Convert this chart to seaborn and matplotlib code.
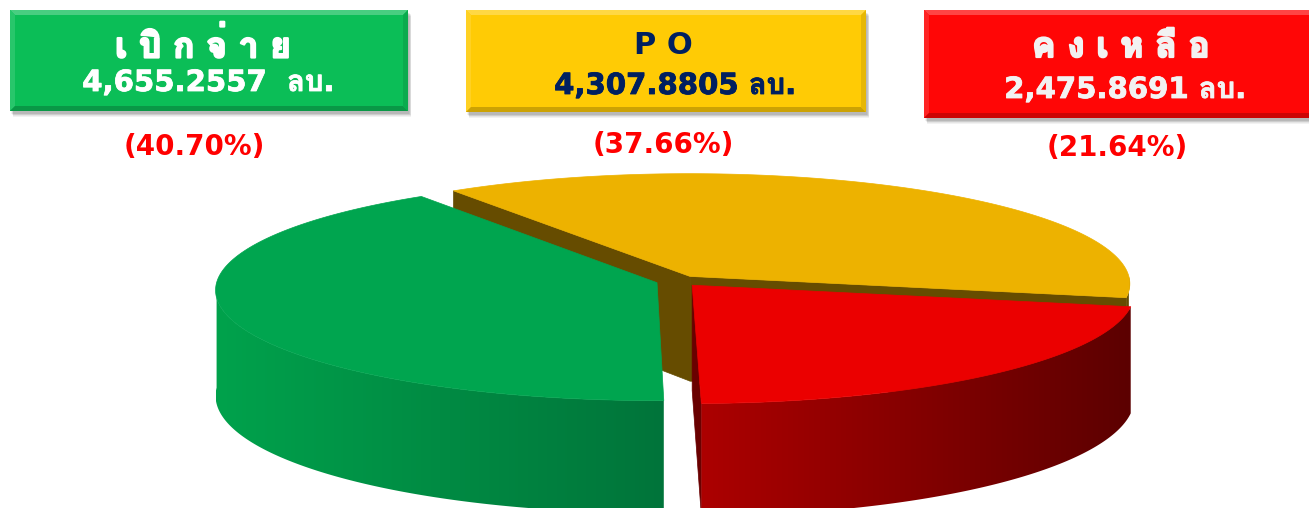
import numpy as np
import matplotlib
matplotlib.use("Agg")
import matplotlib.pyplot as plt
import matplotlib.patheffects as pe
import seaborn as sns
from matplotlib import font_manager
from matplotlib.ft2font import FT2Font
from matplotlib.patches import Polygon, Rectangle
from matplotlib.colors import to_rgb

# data
box_titles = ["เ บิ ก จ่ า ย", "P O", "ค ง เ ห ลื อ"]
amounts = [4655.2557, 4307.8805, 2475.8691]
amount_labels = ["4,655.2557  ลบ.", "4,307.8805 ลบ.", "2,475.8691 ลบ."]
percent_labels = ["(40.70%)", "(37.66%)", "(21.64%)"]

# colours
top_colors = ["#00A54F", "#EDB200", "#EB0000"]
wall_colors = [("#00A24C", "#00743A"), ("#664C00", "#664C00"), ("#AC0000", "#5C0000")]
face_colors = ["#00743A", "#664C00", "#6A0000"]
box_colors = ["#0BBE57", "#FFCB05", "#FF0606"]
text_colors = ["white", "#002060", "#F2F2F2"]

# layout (pixels)
W, H = 1309, 508
boxes = [(10, 10, 408, 111), (466, 10, 866, 112), (924, 10, 1340, 118)]
title_pos = [(203, 46), (663, 45), (1121, 47)]
title_size = [25, 22, 25]
amount_pos = [(208, 83), (675, 86), (1125, 90)]
pct_pos = [(194, 147), (663, 145), (1117, 148)]

cx, cy = 678, 281
rx, ry = 440, 110
depth = 105
persp = 0.065
explode = 0.05
start_angle = 271


def find_thai_font():
    for f in font_manager.fontManager.ttflist:
        try:
            if 0x0E01 in FT2Font(f.fname).get_charmap():
                return f.name
        except Exception:
            pass
    return None


sns.set_theme(style="white")
thai = find_thai_font()
families = ["DejaVu Sans"] + ([thai] if thai else [])
plt.rcParams["font.family"] = families


def proj(x, y, z):
    s = 1.0 / (1.0 + persp * y)
    return cx + rx * x * s, cy - (ry * y - depth * (1 - z)) * s


def mix(c1, c2, t):
    a, b = np.array(to_rgb(c1)), np.array(to_rgb(c2))
    return tuple(a + (b - a) * t)


fig = plt.figure(figsize=(W / 100, H / 100), dpi=100)
ax = fig.add_axes([0, 0, 1, 1])
z = 1

# 3D pie, slices clockwise from the bottom
fracs = np.array(amounts) / sum(amounts)
spans = 360 * fracs
starts = start_angle - np.concatenate([[0], np.cumsum(spans)[:-1]])
ends = starts - spans
mids = (starts + ends) / 2
order = np.argsort(-np.sin(np.radians(mids)))

for i in order:
    a0, a1 = np.radians(ends[i]), np.radians(starts[i])
    m = np.radians(mids[i])
    ox, oy = explode * np.cos(m), explode * np.sin(m)

    # cut faces
    for ang, vis in [(a1, np.cos(a1) < 0), (a0, np.cos(a0) > 0)]:
        if vis:
            ex, ey = ox + np.cos(ang), oy + np.sin(ang)
            pts = [proj(ox, oy, 1), proj(ex, ey, 1), proj(ex, ey, 0), proj(ox, oy, 0)]
            ax.add_patch(Polygon(pts, closed=True, fc=face_colors[i], ec=face_colors[i],
                                 lw=0.5, zorder=z))
            z += 1

    # outer wall (front half only), shaded left to right
    for k in (-1, 0, 1):
        lo = max(a0, np.pi + 2 * np.pi * k)
        hi = min(a1, 2 * np.pi + 2 * np.pi * k)
        if hi <= lo:
            continue
        t = np.linspace(lo, hi, 300)
        xt, yt = proj(ox + np.cos(t), oy + np.sin(t), 1)
        xb, yb = proj(ox + np.cos(t), oy + np.sin(t), 0)
        pts = np.column_stack([np.r_[xt, xb[::-1]], np.r_[yt, yb[::-1]]])
        wall = Polygon(pts, closed=True, fc="none", ec="none")
        ax.add_patch(wall)
        g = np.linspace(0, 1, 256)
        grad = np.array([mix(wall_colors[i][0], wall_colors[i][1], v) for v in g])[None, :, :]
        im = ax.imshow(grad, extent=(pts[:, 0].min(), pts[:, 0].max(), pts[:, 1].max(), pts[:, 1].min()),
                       aspect="auto", interpolation="bilinear", zorder=z)
        im.set_clip_path(wall)
        z += 1

    # top
    tt = np.linspace(a0, a1, 300)
    xs, ys = proj(ox + np.cos(tt), oy + np.sin(tt), 1)
    px, py = proj(ox, oy, 1)
    pts = np.column_stack([np.r_[px, xs], np.r_[py, ys]])
    ax.add_patch(Polygon(pts, closed=True, fc=top_colors[i], ec=top_colors[i], lw=0.5, zorder=z))
    z += 1


# bevelled boxes
def draw_box(x0, y0, x1, y1, color):
    for k in range(6, 0, -1):
        ax.add_patch(Rectangle((x0 + 1 + k * 0.4, y0 + 2 + k * 0.6), x1 - x0, y1 - y0,
                               fc="black", ec="none", alpha=0.05, zorder=50))
    ax.add_patch(Rectangle((x0, y0), x1 - x0, y1 - y0, fc=color, ec="none", zorder=51))
    b = 5
    light, lighter = mix(color, "white", 0.25), mix(color, "white", 0.12)
    dark, darker = mix(color, "black", 0.10), mix(color, "black", 0.20)
    ax.add_patch(Polygon([(x0, y0), (x1, y0), (x1 - b, y0 + b), (x0 + b, y0 + b)], fc=light, ec="none", zorder=52))
    ax.add_patch(Polygon([(x0, y0), (x0 + b, y0 + b), (x0 + b, y1 - b), (x0, y1)], fc=lighter, ec="none", zorder=52))
    ax.add_patch(Polygon([(x0, y1), (x0 + b, y1 - b), (x1 - b, y1 - b), (x1, y1)], fc=darker, ec="none", zorder=52))
    ax.add_patch(Polygon([(x1, y0), (x1, y1), (x1 - b, y1 - b), (x1 - b, y0 + b)], fc=dark, ec="none", zorder=52))


for i in range(3):
    draw_box(*boxes[i], box_colors[i])
    thick = [pe.withStroke(linewidth=1.6, foreground=text_colors[i])]
    ax.text(*title_pos[i], box_titles[i], ha="center", va="center", fontsize=title_size[i],
            fontweight="bold", color=text_colors[i], zorder=60,
            path_effects=thick if i != 1 else None)
    ax.text(*amount_pos[i], amount_labels[i], ha="center", va="center", fontsize=21,
            fontweight="bold", color=text_colors[i], zorder=60,
            path_effects=[pe.withStroke(linewidth=0.6, foreground=text_colors[i])])
    ax.text(*pct_pos[i], percent_labels[i], ha="center", va="center", fontsize=20,
            fontweight="bold", color="#FF0000", zorder=60)

ax.set_xlim(0, W)
ax.set_ylim(H, 0)
ax.axis("off")
fig.savefig("out.png", dpi=100)
